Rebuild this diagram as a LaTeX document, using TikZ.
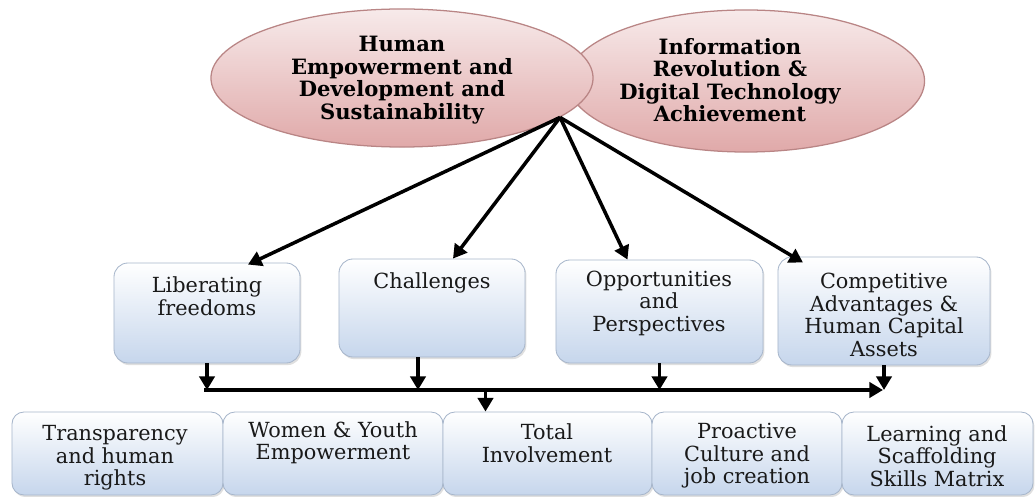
\documentclass[tikz,border=0pt]{standalone}
\usepackage{fontspec}
\setmainfont{DejaVu Serif}
\usepackage{xcolor}
\usetikzlibrary{arrows.meta,shapes.geometric,positioning,calc,shadows}

\definecolor{pinktop}{HTML}{F7EAEA}
\definecolor{pinkbot}{HTML}{E0A9A9}
\definecolor{roseline}{HTML}{B98585}
\definecolor{bluebot}{HTML}{C6D6EC}
\definecolor{boxline}{HTML}{A7B6CB}

\begin{document}
\begin{tikzpicture}[x=0.025cm,y=-0.025cm,
  goal/.style={ellipse,draw=roseline,line width=0.9pt,inner sep=0pt,
    top color=pinktop,bottom color=pinkbot},
  goaltxt/.style={align=center,inner sep=0pt,font=\bfseries\fontsize{15}{16}\selectfont},
  box/.style={rectangle,rounded corners=0.35cm,draw=boxline,line width=0.6pt,inner sep=0pt,
    top color=white,bottom color=bluebot,
    drop shadow={shadow xshift=1pt,shadow yshift=-1.5pt,opacity=0.25}},
  txt/.style={align=center,inner sep=0pt,text=black!90,font=\fontsize{14.8}{16}\selectfont},
  arr/.style={line width=2.5pt,-{Triangle[length=0.34cm,width=0.38cm]}}]

\useasboundingbox (0,0) rectangle (1035,497);

% Goals
\node[goal,minimum width=8.925cm,minimum height=3.55cm] (info) at (746,81) {};
\node[goal,minimum width=9.55cm,minimum height=3.45cm] (hum) at (402,78) {};
\node[goaltxt] (humt) at (402,80) {Human\\Empowerment and\\Development and\\Sustainability};
\node[goaltxt] (infot) at (730,80) {Information\\Revolution \&\\Digital Technology\\Achievement};

% Middle row
\node[box,minimum width=4.65cm,minimum height=2.5cm] (lib) at (207,313) {};
\node[box,minimum width=4.65cm,minimum height=2.45cm] (chal) at (432,308) {};
\node[box,minimum width=5.175cm,minimum height=2.575cm] (opp) at (659.5,311.5) {};
\node[box,minimum width=5.3cm,minimum height=2.7cm] (comp) at (884,311) {};
\node[txt] (libt) at (207,296) {Liberating\\freedoms};
\node[txt] (chalt) at (432,283) {Challenges};
\node[txt] (oppt) at (659,303) {Opportunities\\and\\Perspectives};
\node[txt] (compt) at (884,315) {Competitive\\Advantages \&\\Human Capital\\Assets};

% Bottom row
\node[box,rounded corners=0.3cm,minimum width=5.275cm,minimum height=2.075cm] (b1) at (117.5,453.5) {};
\node[box,rounded corners=0.3cm,minimum width=5.5cm,minimum height=2.075cm] (b2) at (333,453.5) {};
\node[box,rounded corners=0.3cm,minimum width=5.225cm,minimum height=2.075cm] (tot) at (547.5,453.5) {};
\node[box,rounded corners=0.3cm,minimum width=4.75cm,minimum height=2.075cm] (b4) at (747,453.5) {};
\node[box,rounded corners=0.3cm,minimum width=4.775cm,minimum height=2.075cm] (b5) at (937.5,453.5) {};
\node[txt] (b1t) at (115,458) {Transparency\\and human\\rights};
\node[txt] (b2t) at (333,443) {Women \& Youth\\Empowerment};
\node[txt] (tott) at (547,443) {Total\\Involvement};
\node[txt] (b4t) at (747,456) {Proactive\\Culture and\\job creation};
\node[txt] (b5t) at (937,456) {Learning and\\Scaffolding\\Skills Matrix};

% Fan out from the goals
\draw[arr] (hum.-14) -- ($(lib.north)+(41,2)$);
\draw[arr] (hum.-14) -- ($(chal.north)+(21,0)$);
\draw[arr] (hum.-14) -- ($(opp.north)+(-32,0)$);
\draw[arr] (hum.-14) -- ($(comp.north)+(-81,6)$);

% Collecting line
\coordinate (busl) at (204,390);
\coordinate (busr) at (883,390);
\draw[arr] (busl) -- (busr);
\draw[arr] (lib.south) -- (lib.south |- busl);
\draw[arr] ([xshift=-0.35cm]chal.south) -- ([xshift=-0.35cm]chal.south |- busl);
\draw[arr] (opp.south) -- (opp.south |- busl);
\draw[arr] (comp.south) -- (comp.south |- busr);
\draw[arr] ($(tot.north)+(-62,-22)$) -- ($(tot.north)+(-62,0)$);
\end{tikzpicture}
\end{document}
